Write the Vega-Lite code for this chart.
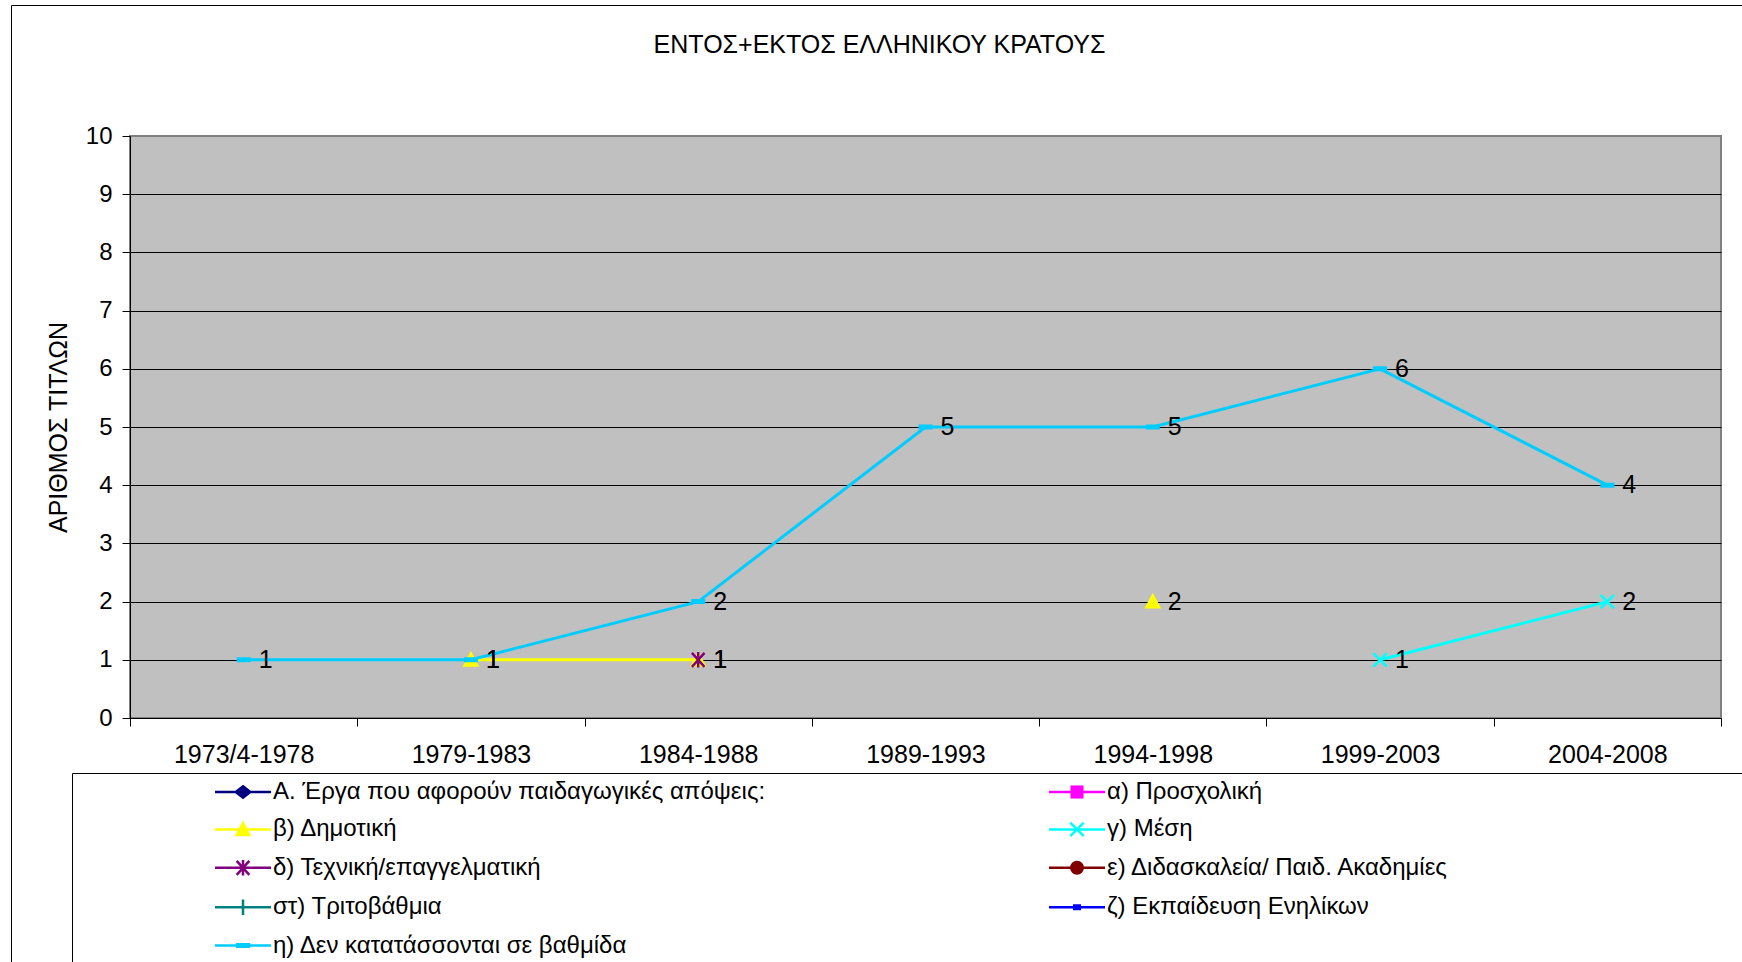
{
  "$schema": "https://vega.github.io/schema/vega-lite/v6.json",
  "width": 1591,
  "height": 582,
  "autosize": {"type": "none"},
  "padding": {"left": 130, "top": 136, "right": 21, "bottom": 244},
  "background": "white",
  "view": {"fill": "#C0C0C0", "stroke": "#808080", "strokeWidth": 2},
  "title": {
    "text": "ΕΝΤΟΣ+ΕΚΤΟΣ ΕΛΛΗΝΙΚΟΥ ΚΡΑΤΟΥΣ",
    "font": "Liberation Sans",
    "fontSize": 25,
    "fontWeight": "normal",
    "color": "black",
    "anchor": "middle",
    "frame": "group",
    "dx": -46,
    "offset": -53
  },
  "config": {
    "font": "Liberation Sans",
    "view": {"fill": "#C0C0C0", "stroke": "#808080", "strokeWidth": 2}
  },
  "data": {
    "values": [
      {"series": "β) Δημοτική", "period": "1979-1983", "value": 1},
      {"series": "β) Δημοτική", "period": "1984-1988", "value": 1},
      {"series": "β) Δημοτική", "period": "1989-1993", "value": null},
      {"series": "β) Δημοτική", "period": "1994-1998", "value": 2},
      {"series": "γ) Μέση", "period": "1999-2003", "value": 1},
      {"series": "γ) Μέση", "period": "2004-2008", "value": 2},
      {"series": "δ) Τεχνική/επαγγελματική", "period": "1984-1988", "value": 1},
      {"series": "η) Δεν κατατάσσονται σε βαθμίδα", "period": "1973/4-1978", "value": 1},
      {"series": "η) Δεν κατατάσσονται σε βαθμίδα", "period": "1979-1983", "value": 1},
      {"series": "η) Δεν κατατάσσονται σε βαθμίδα", "period": "1984-1988", "value": 2},
      {"series": "η) Δεν κατατάσσονται σε βαθμίδα", "period": "1989-1993", "value": 5},
      {"series": "η) Δεν κατατάσσονται σε βαθμίδα", "period": "1994-1998", "value": 5},
      {"series": "η) Δεν κατατάσσονται σε βαθμίδα", "period": "1999-2003", "value": 6},
      {"series": "η) Δεν κατατάσσονται σε βαθμίδα", "period": "2004-2008", "value": 4}
    ]
  },
  "resolve": {"scale": {"color": "independent", "stroke": "independent", "shape": "independent"}},
  "layer": [
    {
      "mark": {"type": "line", "strokeWidth": 3, "invalid": "break-paths-filter-domains"},
      "encoding": {
        "x": {"field": "period", "type": "ordinal", "bandPosition": 0.5,
          "scale": {"type": "band", "paddingInner": 0, "paddingOuter": 0,
            "domain": ["1973/4-1978", "1979-1983", "1984-1988", "1989-1993", "1994-1998", "1999-2003", "2004-2008"]},
          "axis": {"title": null, "labelAngle": 0, "labelFontSize": 25, "labelColor": "black", "tickBand": "extent", "tickSize": 8, "tickColor": "black", "domainColor": "black", "labelPadding": 16, "grid": false}},
        "y": {"field": "value", "type": "quantitative",
          "scale": {"domain": [0, 10], "nice": false},
          "axis": {"title": "ΑΡΙΘΜΟΣ ΤΙΤΛΩΝ", "titleFontSize": 25, "titleFontWeight": "normal", "titleColor": "black", "titlePadding": 14, "format": "d",
            "values": [0, 1, 2, 3, 4, 5, 6, 7, 8, 9, 10], "labelFontSize": 24, "labelColor": "black", "tickSize": 8, "tickColor": "black", "labelPadding": 10, "domainColor": "black",
            "gridColor": {"condition": {"test": "datum.value === 10", "value": "#808080"}, "value": "black"}}},
        "color": {"field": "series", "type": "nominal", "legend": null,
          "scale": {"domain": ["Α. Έργα που αφορούν παιδαγωγικές απόψεις:", "β) Δημοτική", "δ) Τεχνική/επαγγελματική", "στ) Τριτοβάθμια", "η) Δεν κατατάσσονται σε βαθμίδα", "α) Προσχολική", "γ) Μέση", "ε) Διδασκαλεία/ Παιδ. Ακαδημίες", "ζ) Εκπαίδευση Ενηλίκων"],
            "range": ["#000080", "#FFFF00", "#800080", "#008080", "#00CCFF", "#FF00FF", "#00FFFF", "#800000", "#0000FF"]}}
      }
    },
    {
      "transform": [{"filter": "datum.value != null"}],
      "mark": {"type": "point", "filled": true, "opacity": 1, "size": 196, "strokeWidth": 2.5},
      "encoding": {
        "x": {"field": "period", "type": "ordinal", "bandPosition": 0.5},
        "y": {"field": "value", "type": "quantitative"},
        "color": {"field": "series", "type": "nominal", "legend": null,
          "scale": {"domain": ["Α. Έργα που αφορούν παιδαγωγικές απόψεις:", "β) Δημοτική", "δ) Τεχνική/επαγγελματική", "στ) Τριτοβάθμια", "η) Δεν κατατάσσονται σε βαθμίδα", "α) Προσχολική", "γ) Μέση", "ε) Διδασκαλεία/ Παιδ. Ακαδημίες", "ζ) Εκπαίδευση Ενηλίκων"],
            "range": ["#000080", "#FFFF00", "#800080", "#008080", "#00CCFF", "#FF00FF", "#00FFFF", "#800000", "#0000FF"]}},
        "stroke": {"field": "series", "type": "nominal", "legend": null,
          "scale": {"domain": ["Α. Έργα που αφορούν παιδαγωγικές απόψεις:", "β) Δημοτική", "δ) Τεχνική/επαγγελματική", "στ) Τριτοβάθμια", "η) Δεν κατατάσσονται σε βαθμίδα", "α) Προσχολική", "γ) Μέση", "ε) Διδασκαλεία/ Παιδ. Ακαδημίες", "ζ) Εκπαίδευση Ενηλίκων"],
            "range": ["#000080", "#FFFF00", "#800080", "#008080", "#00CCFF", "#FF00FF", "#00FFFF", "#800000", "#0000FF"]}},
        "shape": {"field": "series", "type": "nominal", "legend": null,
          "scale": {"domain": ["Α. Έργα που αφορούν παιδαγωγικές απόψεις:", "β) Δημοτική", "δ) Τεχνική/επαγγελματική", "στ) Τριτοβάθμια", "η) Δεν κατατάσσονται σε βαθμίδα", "α) Προσχολική", "γ) Μέση", "ε) Διδασκαλεία/ Παιδ. Ακαδημίες", "ζ) Εκπαίδευση Ενηλίκων"],
            "range": [
              "M0,-0.82L1.04,0L0,0.82L-1.04,0Z",
              "M0,-0.9L0.9,0.8L-0.9,0.8Z",
              "M-0.9,-1L0.9,1M-0.9,1L0.9,-1M0,-1.1V1.1",
              "M-1,0H1M0,-1.1V1.1",
              "M-0.82,-0.18H0.82V0.18H-0.82Z",
              "M-0.75,-0.75H0.75V0.75H-0.75Z",
              "M-0.96,-0.96L0.96,0.96M-0.96,0.96L0.96,-0.96",
              "M-0.82,0A0.82,0.82 0 1,0 0.82,0A0.82,0.82 0 1,0 -0.82,0Z",
              "M-0.39,-0.25H0.39V0.25H-0.39Z"
            ]}}
      }
    },
    {
      "transform": [{"filter": "datum.value != null"}],
      "mark": {"type": "text", "align": "left", "baseline": "middle", "dx": 15, "fontSize": 25, "font": "Liberation Sans", "color": "black"},
      "encoding": {
        "x": {"field": "period", "type": "ordinal", "bandPosition": 0.5},
        "y": {"field": "value", "type": "quantitative"},
        "text": {"field": "value", "type": "quantitative"}
      }
    },
    {
      "transform": [{"filter": "datum.value != null"}],
      "mark": {"type": "point", "filled": true, "opacity": 0, "size": 196, "strokeWidth": 2.5},
      "encoding": {
        "x": {"field": "period", "type": "ordinal", "bandPosition": 0.5},
        "y": {"field": "value", "type": "quantitative"},
        "color": {"field": "series", "type": "nominal",
          "scale": {"domain": ["Α. Έργα που αφορούν παιδαγωγικές απόψεις:", "β) Δημοτική", "δ) Τεχνική/επαγγελματική", "στ) Τριτοβάθμια", "η) Δεν κατατάσσονται σε βαθμίδα", "α) Προσχολική", "γ) Μέση", "ε) Διδασκαλεία/ Παιδ. Ακαδημίες", "ζ) Εκπαίδευση Ενηλίκων"],
            "range": ["#000080", "#FFFF00", "#800080", "#008080", "#00CCFF", "#FF00FF", "#00FFFF", "#800000", "#0000FF"]},
          "legend": {"orient": "none", "legendX": 84, "legendY": 644, "columns": 2, "columnPadding": 278, "rowPadding": 13.4, "title": null, "labelFontSize": 24, "labelFont": "Liberation Sans", "labelColor": "black", "labelLimit": 1000, "symbolSize": 196, "symbolOffset": 17, "labelOffset": 18, "symbolStrokeWidth": 2.5, "symbolOpacity": 1, "padding": 0}},
        "stroke": {"field": "series", "type": "nominal",
          "scale": {"domain": ["Α. Έργα που αφορούν παιδαγωγικές απόψεις:", "β) Δημοτική", "δ) Τεχνική/επαγγελματική", "στ) Τριτοβάθμια", "η) Δεν κατατάσσονται σε βαθμίδα", "α) Προσχολική", "γ) Μέση", "ε) Διδασκαλεία/ Παιδ. Ακαδημίες", "ζ) Εκπαίδευση Ενηλίκων"],
            "range": ["#000080", "#FFFF00", "#800080", "#008080", "#00CCFF", "#FF00FF", "#00FFFF", "#800000", "#0000FF"]},
          "legend": {"orient": "none", "legendX": 84, "legendY": 644, "columns": 2, "columnPadding": 278, "rowPadding": 13.4, "title": null, "labelFontSize": 24, "labelFont": "Liberation Sans", "labelColor": "black", "labelLimit": 1000, "symbolSize": 196, "symbolOffset": 17, "labelOffset": 18, "symbolStrokeWidth": 2.5, "symbolOpacity": 1, "padding": 0}},
        "shape": {"field": "series", "type": "nominal",
          "scale": {"domain": ["Α. Έργα που αφορούν παιδαγωγικές απόψεις:", "β) Δημοτική", "δ) Τεχνική/επαγγελματική", "στ) Τριτοβάθμια", "η) Δεν κατατάσσονται σε βαθμίδα", "α) Προσχολική", "γ) Μέση", "ε) Διδασκαλεία/ Παιδ. Ακαδημίες", "ζ) Εκπαίδευση Ενηλίκων"],
            "range": [
              "M-4,0H4M0,-0.82L1.04,0L0,0.82L-1.04,0Z",
              "M-4,0H4M0,-0.9L0.9,0.8L-0.9,0.8Z",
              "M-4,0H4M-0.9,-1L0.9,1M-0.9,1L0.9,-1M0,-1.1V1.1",
              "M-4,0H4M0,-1.1V1.1",
              "M-4,0H4M-0.82,-0.18H0.82V0.18H-0.82Z",
              "M-4,0H4M-0.75,-0.75H0.75V0.75H-0.75Z",
              "M-4,0H4M-0.96,-0.96L0.96,0.96M-0.96,0.96L0.96,-0.96",
              "M-4,0H4M-0.82,0A0.82,0.82 0 1,0 0.82,0A0.82,0.82 0 1,0 -0.82,0Z",
              "M-4,0H4M-0.39,-0.25H0.39V0.25H-0.39Z"
            ]},
          "legend": {"orient": "none", "legendX": 84, "legendY": 644, "columns": 2, "columnPadding": 278, "rowPadding": 13.4, "title": null, "labelFontSize": 24, "labelFont": "Liberation Sans", "labelColor": "black", "labelLimit": 1000, "symbolSize": 196, "symbolOffset": 17, "labelOffset": 18, "symbolStrokeWidth": 2.5, "symbolOpacity": 1, "padding": 0}}
      }
    },
    {
      "mark": {"type": "point", "opacity": 0},
      "encoding": {
        "color": {"datum": 1, "type": "quantitative",
          "scale": {"domain": [0, 1], "range": ["#ffffff", "#ffffff"]},
          "legend": {"orient": "none", "legendX": -58, "legendY": 637, "direction": "horizontal", "gradientLength": 1720, "gradientThickness": 188, "gradientOpacity": 0, "gradientStrokeWidth": 0, "labelExpr": "''", "labelFontSize": 1, "labelOffset": 0, "title": null, "padding": 0, "strokeColor": "black"}}
      }
    },
    {
      "mark": {"type": "point", "opacity": 0},
      "encoding": {
        "color": {"datum": 2, "type": "quantitative",
          "scale": {"domain": [0, 3], "range": ["#fefefe", "#fefefe"]},
          "legend": {"orient": "none", "legendX": -119, "legendY": -131, "direction": "horizontal", "gradientLength": 1800, "gradientThickness": 1100, "gradientOpacity": 0, "gradientStrokeWidth": 0, "labelExpr": "''", "labelFontSize": 1, "labelOffset": 0, "title": null, "padding": 0, "strokeColor": "black"}}
      }
    }
  ]
}
